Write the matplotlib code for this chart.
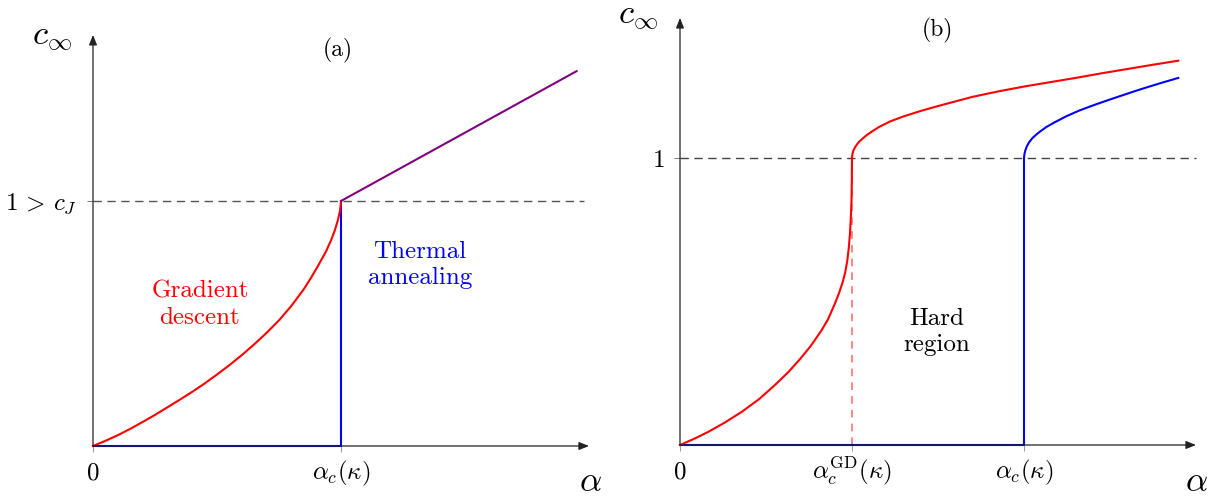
import matplotlib
matplotlib.use("Agg")
import matplotlib.pyplot as plt

plt.rcParams["mathtext.fontset"] = "cm"
plt.rcParams["font.family"] = "cmr10"
plt.rcParams["axes.unicode_minus"] = False

# ---------------- panel (a) ----------------
a_gd_alpha = [0.0, 0.05, 0.10, 0.15, 0.20, 0.25, 0.30, 0.35, 0.40, 0.45,
              0.50, 0.55, 0.60, 0.65, 0.70, 0.75, 0.80, 0.85, 0.88, 0.91,
              0.94, 0.96, 0.975, 0.987, 0.995, 0.999, 1.0]
a_gd_c = [0.0, 0.021, 0.044, 0.070, 0.098, 0.127, 0.158, 0.189, 0.221, 0.255,
          0.292, 0.330, 0.371, 0.415, 0.462, 0.513, 0.572, 0.640, 0.688, 0.740,
          0.795, 0.840, 0.880, 0.920, 0.955, 0.985, 1.0]
a_ta_alpha = [0.0, 1.0, 1.0]
a_ta_c = [0.0, 0.0, 1.0]
a_high_alpha = [1.0, 1.95]
a_high_c = [1.0, 1.53]
a_cJ = 1.0
a_xticks = [0.0, 1.0]
a_xticklabels = [r"$0$", r"$\alpha_c(\kappa)$"]
a_yticks = [a_cJ]
a_yticklabels = [r"$1\,>\,c_J$"]

# ---------------- panel (b) ----------------
b_gd_low_alpha = [0.0, 0.08, 0.165, 0.26, 0.36, 0.46, 0.55, 0.63, 0.70, 0.76,
                  0.82, 0.86, 0.90, 0.925, 0.945, 0.96, 0.972, 0.981, 0.988,
                  0.993, 0.997, 0.999, 1.0]
b_gd_low_c = [0.0, 0.021, 0.046, 0.078, 0.116, 0.160, 0.208, 0.254, 0.301, 0.345,
              0.397, 0.437, 0.492, 0.530, 0.566, 0.600, 0.640, 0.685, 0.735,
              0.790, 0.850, 0.920, 1.0]
b_gd_high_alpha = [1.0, 1.002, 1.008, 1.02, 1.04, 1.06, 1.086, 1.12, 1.16, 1.22,
                   1.30, 1.40, 1.50, 1.60, 1.70, 1.85, 2.00, 2.15, 2.30, 2.45,
                   2.60, 2.75, 2.897]
b_gd_high_c = [1.0, 1.012, 1.026, 1.040, 1.056, 1.067, 1.080, 1.094, 1.109, 1.127,
               1.145, 1.164, 1.181, 1.197, 1.213, 1.232, 1.249, 1.264, 1.279, 1.295,
               1.310, 1.325, 1.339]
b_ta_alpha = [0.0, 2.0, 2.0, 2.002, 2.007, 2.016, 2.03, 2.05, 2.07, 2.093, 2.13,
              2.18, 2.248, 2.32, 2.40, 2.481, 2.56, 2.64, 2.713, 2.80, 2.897]
b_ta_c = [0.0, 0.0, 1.0, 1.012, 1.025, 1.040, 1.055, 1.070, 1.081, 1.092, 1.108,
          1.125, 1.146, 1.165, 1.183, 1.200, 1.216, 1.232, 1.246, 1.262, 1.279]
b_alpha_gd = 1.0
b_xticks = [0.0, 1.0, 2.0]
b_xticklabels = [r"$0$", r"$\alpha_c^{\mathrm{GD}}(\kappa)$", r"$\alpha_c(\kappa)$"]
b_yticks = [1.0]
b_yticklabels = [r"$1$"]

W, H, DPI = 1227, 496, 100
fig = plt.figure(figsize=(W / DPI, H / DPI), dpi=DPI)


def make_axes(x0, y0, ux, uy, xlim, ylim):
    """Axes whose data origin sits at pixel (x0, y0) with ux, uy px per unit."""
    left = x0 + xlim[0] * ux
    right = x0 + xlim[1] * ux
    top = y0 - ylim[1] * uy
    bottom = y0 - ylim[0] * uy
    ax = fig.add_axes([left / W, 1 - bottom / H, (right - left) / W, (bottom - top) / H])
    ax.set_xlim(*xlim)
    ax.set_ylim(*ylim)
    for s in ax.spines.values():
        s.set_visible(False)
    ax.patch.set_alpha(0)
    return ax


def draw_frame(ax, xmax, ymax, xticks, xlabels, yticks, ylabels):
    arrow = dict(arrowstyle="-|>,head_length=0.5,head_width=0.2", color="#222222",
                 lw=0.9, shrinkA=0, shrinkB=0, mutation_scale=12)
    ax.annotate("", xy=(xmax, 0), xytext=(0, 0), arrowprops=arrow,
                annotation_clip=False)
    ax.annotate("", xy=(0, ymax), xytext=(0, 0), arrowprops=arrow,
                annotation_clip=False)
    ax.set_xticks(xticks)
    ax.set_xticklabels(xlabels)
    ax.set_yticks(yticks)
    ax.set_yticklabels(ylabels)
    ax.tick_params(axis="x", direction="out", length=4.3, width=0.7,
                   color="#999999", pad=19.5, labelsize=18)
    ax.tick_params(axis="y", direction="out", length=4.3, width=0.7,
                   color="#777777", pad=7, labelsize=18)
    for lab in ax.get_xticklabels():
        lab.set_verticalalignment("baseline")


# panel (a)
axa = make_axes(93, 446, 248, 245, (0.0, 2.1), (0.0, 1.75))
draw_frame(axa, 2.0, 1.678, a_xticks, a_xticklabels, a_yticks, a_yticklabels)
axa.plot([0, 1.98], [a_cJ, a_cJ], color="#555555", lw=1.0,
         linestyle=(0, (6, 4)), clip_on=False)
axa.plot(a_ta_alpha, a_ta_c, color="#0000ff", lw=1.5, clip_on=False,
         solid_joinstyle="miter")
axa.plot(a_gd_alpha, a_gd_c, color="#ff0000", lw=1.5, clip_on=False)
axa.plot(a_high_alpha, a_high_c, color="#800080", lw=1.5, clip_on=False)
axa.text(-0.165, 1.665, r"$c_\infty$", fontsize=25, ha="center", va="center")
axa.text(2.004, -0.147, r"$\alpha$", fontsize=25, ha="center", va="center")
axa.text(0.988, 1.616, "(a)", fontsize=17, ha="center", va="center")
axa.text(0.431, 0.576, "Gradient\ndescent", fontsize=18, color="#ff0000",
         ha="center", va="center", linespacing=1.25)
axa.text(1.319, 0.739, "Thermal\nannealing", fontsize=18, color="#0000ff",
         ha="center", va="center", linespacing=1.25)

# panel (b)
axb = make_axes(680, 445, 172, 287, (0.0, 3.1), (0.0, 1.55))
draw_frame(axb, 3.0, 1.488, b_xticks, b_xticklabels, b_yticks, b_yticklabels)
axb.plot([0, 3.0], [1.0, 1.0], color="#444444", lw=1.0,
         linestyle=(0, (6, 4)), clip_on=False)
axb.plot([b_alpha_gd, b_alpha_gd], [0, 1.0], color="#ff0000", alpha=0.6,
         lw=1.1, linestyle=(0, (5, 4)), clip_on=False)
axb.plot(b_ta_alpha, b_ta_c, color="#0000ff", lw=1.5, clip_on=False)
axb.plot(b_gd_low_alpha, b_gd_low_c, color="#ff0000", lw=1.5, clip_on=False)
axb.plot(b_gd_high_alpha, b_gd_high_c, color="#ff0000", lw=1.5, clip_on=False)
axb.text(-0.244, 1.491, r"$c_\infty$", fontsize=25, ha="center", va="center")
axb.text(3.0, -0.129, r"$\alpha$", fontsize=25, ha="center", va="center")
axb.text(1.494, 1.446, "(b)", fontsize=17, ha="center", va="center")
axb.text(1.494, 0.394, "Hard\nregion", fontsize=18, color="black",
         ha="center", va="center", linespacing=1.25)

fig.savefig("out.png", dpi=DPI)
